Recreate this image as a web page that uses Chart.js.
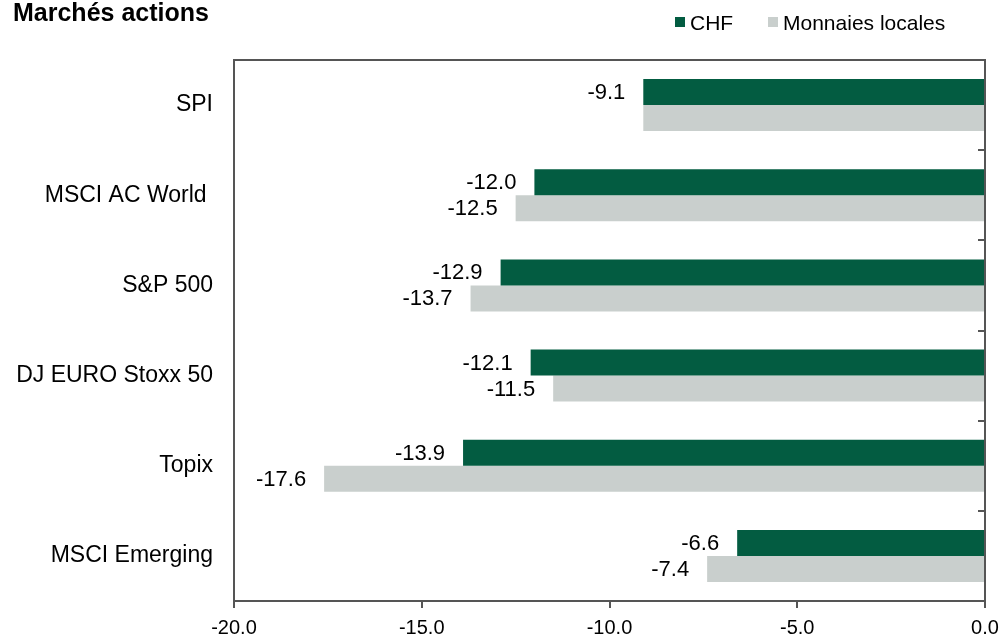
<!DOCTYPE html>
<html>
<head>
<meta charset="utf-8">
<script src="https://cdn.jsdelivr.net/npm/chart.js@4"></script>
<style>
    body { margin: 0; background: #fff; font-family: "Liberation Sans", Arial, sans-serif; }
    .wrap { position: relative; width: 1002px; height: 636px; }
    .title { position: absolute; left: 13px; top: -2px; font-size: 25px; line-height: 28px; font-weight: bold; color: #000; }
    .legend-item { position: absolute; top: 11px; font-size: 21px; line-height: 24px; color: #000; }
    .legend-item span { position: absolute; top: 6px; width: 10px; height: 10px; }
    canvas { position: absolute; left: 0; top: 0; }
</style>
</head>
<body>
<div class="wrap">
    <canvas id="myChart" width="1002" height="636"></canvas>
    <div class="title">Marchés actions</div>
    <div id="legend"></div>
</div>
<script>
const categories = ['SPI', 'MSCI AC World ', 'S&P 500', 'DJ EURO Stoxx 50', 'Topix', 'MSCI Emerging'];
const seriesNames = ['CHF', 'Monnaies locales'];
const chfValues = [-9.1, -12.0, -12.9, -12.1, -13.9, -6.6];
const localValues = [-9.1, -12.5, -13.7, -11.5, -17.6, -7.4];
const localLabels = ['', '-12.5', '-13.7', '-11.5', '-17.6', '-7.4'];
const xTicks = [-20, -15, -10, -5, 0];

const colors = ['#035c41', '#c9cfcd'];
const frameColor = '#555555';
const fontFamily = '"Liberation Sans", Arial, sans-serif';

// legend in html
const legendPos = [675, 768];
const legend = document.getElementById('legend');
seriesNames.forEach(function (name, i) {
    const item = document.createElement('div');
    item.className = 'legend-item';
    item.style.left = legendPos[i] + 'px';
    item.innerHTML = '<span style="left:0;background:' + colors[i] + '"></span>';
    const txt = document.createElement('div');
    txt.style.marginLeft = '15px';
    txt.textContent = name;
    item.appendChild(txt);
    legend.appendChild(item);
});

const valueLabels = {
    id: 'valueLabels',
    afterDatasetsDraw(chart) {
        const ctx = chart.ctx;
        ctx.save();
        ctx.font = '22px ' + fontFamily;
        ctx.fillStyle = '#000';
        ctx.textAlign = 'right';
        ctx.textBaseline = 'middle';
        chart.data.datasets.forEach(function (ds, d) {
            const meta = chart.getDatasetMeta(d);
            meta.data.forEach(function (bar, i) {
                const text = ds.labelTexts[i];
                if (text === '') return;
                ctx.fillText(text, bar.x - 18, bar.y + 1);
            });
        });
        ctx.restore();
    }
};

const frame = {
    id: 'frame',
    afterDraw(chart) {
        const ctx = chart.ctx;
        const a = chart.chartArea;
        const yScale = chart.scales.y;
        ctx.save();
        ctx.strokeStyle = frameColor;
        ctx.lineWidth = 2;
        ctx.beginPath();
        ctx.moveTo(a.left - 1, a.top);
        ctx.lineTo(a.right, a.top);
        ctx.moveTo(a.right, a.top - 1);
        ctx.lineTo(a.right, a.bottom);
        const band = (a.bottom - a.top) / categories.length;
        for (let i = 1; i < categories.length; i++) {
            const y = Math.round(yScale.getPixelForValue(i) - band / 2);
            ctx.moveTo(a.right - 7, y);
            ctx.lineTo(a.right, y);
        }
        ctx.stroke();
        ctx.restore();
    }
};

const ctx = document.getElementById('myChart');

new Chart(ctx, {
    type: 'bar',
    data: {
        labels: categories,
        datasets: [{
            label: seriesNames[0],
            data: chfValues,
            labelTexts: chfValues.map(v => v.toFixed(1)),
            backgroundColor: colors[0],
            borderWidth: 0,
            categoryPercentage: 0.577,
            barPercentage: 1
        }, {
            label: seriesNames[1],
            data: localValues,
            labelTexts: localLabels,
            backgroundColor: colors[1],
            borderWidth: 0,
            categoryPercentage: 0.577,
            barPercentage: 1
        }]
    },
    options: {
        indexAxis: 'y',
        responsive: false,
        animation: false,
        layout: { padding: { top: 60, right: 17, left: 0, bottom: 0 } },
        plugins: {
            legend: { display: false },
            tooltip: { enabled: false }
        },
        scales: {
            x: {
                min: -20,
                max: 0,
                afterBuildTicks: function (scale) {
                    scale.ticks = xTicks.map(v => ({ value: v }));
                },
                ticks: {
                    color: '#000',
                    font: { family: fontFamily, size: 20 },
                    padding: 8,
                    maxRotation: 0,
                    callback: v => Number(v).toFixed(1)
                },
                grid: {
                    drawOnChartArea: false,
                    drawTicks: true,
                    tickLength: 7,
                    color: frameColor,
                    lineWidth: 2
                },
                border: { display: true, color: frameColor, width: 2 },
                afterFit: function (scale) {
                    scale.height = 35;
                    scale.paddingLeft = 0;
                    scale.paddingRight = 0;
                }
            },
            y: {
                position: 'left',
                ticks: {
                    color: '#000',
                    font: { family: fontFamily, size: 23 },
                    padding: 21
                },
                grid: { display: false, drawTicks: false },
                border: { display: true, color: frameColor, width: 2 },
                afterFit: function (scale) {
                    scale.width = 234;
                    scale.paddingTop = 0;
                    scale.paddingBottom = 0;
                }
            }
        }
    },
    plugins: [valueLabels, frame]
});
</script>
</body>
</html>
